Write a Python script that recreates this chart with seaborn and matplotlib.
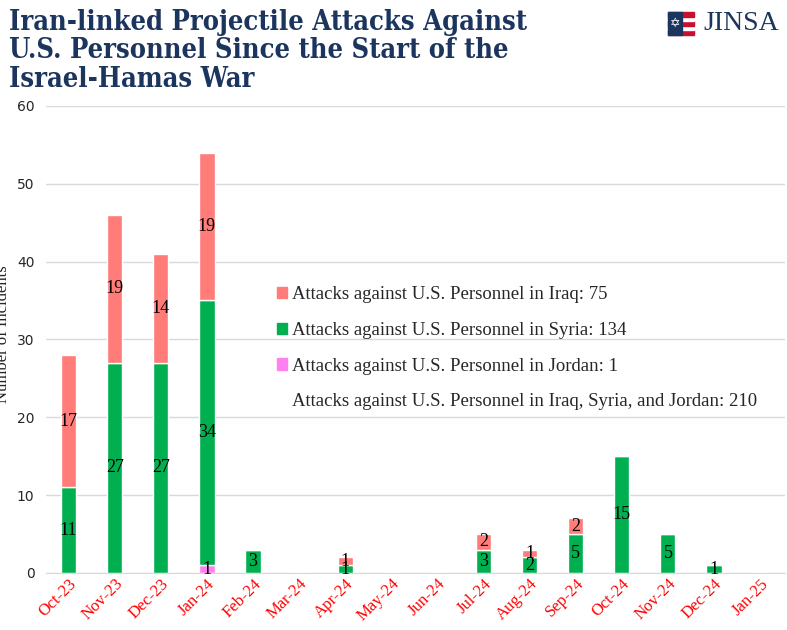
import numpy as np
import matplotlib
matplotlib.use("Agg")
import matplotlib.pyplot as plt
import seaborn as sns
from matplotlib.patches import Patch, Rectangle

months = ["Oct-23", "Nov-23", "Dec-23", "Jan-24", "Feb-24", "Mar-24", "Apr-24", "May-24",
          "Jun-24", "Jul-24", "Aug-24", "Sep-24", "Oct-24", "Nov-24", "Dec-24", "Jan-25"]
jordan = [0, 0, 0, 1, 0, 0, 0, 0, 0, 0, 0, 0, 0, 0, 0, 0]
syria = [11, 27, 27, 34, 3, 0, 1, 0, 0, 3, 2, 5, 15, 5, 1, 0]
iraq = [17, 19, 14, 19, 0, 0, 1, 0, 0, 2, 1, 2, 0, 0, 0, 0]

legend_labels = ["Attacks against U.S. Personnel in Iraq: 75",
                 "Attacks against U.S. Personnel in Syria: 134",
                 "Attacks against U.S. Personnel in Jordan: 1",
                 "Attacks against U.S. Personnel in Iraq, Syria, and Jordan: 210"]

c_iraq = "#ff7c78"
c_syria = "#00b050"
c_jordan = "#ff80f0"
navy = "#1c355e"

sns.set_style("white")
plt.rcParams['font.family'] = ['DejaVu Sans']

fig = plt.figure(figsize=(7.87, 6.3), dpi=100)
ax = fig.add_axes([0.058, 0.0905, 0.94, 0.7415])

jordan = np.array(jordan)
syria = np.array(syria)
iraq = np.array(iraq)

sns.barplot(x=months, y=jordan, color=c_jordan, width=0.33, ax=ax, saturation=1)
sns.barplot(x=months, y=syria, bottom=jordan, color=c_syria, width=0.33, ax=ax, saturation=1)
sns.barplot(x=months, y=iraq, bottom=jordan + syria, color=c_iraq, width=0.33, ax=ax, saturation=1)

# data labels
lab_font = dict(family="Liberation Serif", fontsize=13, color="black", ha="center", va="center")
for i in range(len(months)):
    if jordan[i]:
        ax.text(i, jordan[i] / 2, str(jordan[i]), **lab_font)
    if syria[i]:
        ax.text(i, jordan[i] + syria[i] / 2, str(syria[i]), **lab_font)
    if iraq[i]:
        ax.text(i, jordan[i] + syria[i] + iraq[i] / 2, str(iraq[i]), **lab_font)

ax.set_xlim(-0.5, 15.55)
ax.set_ylim(0, 60)
ax.set_yticks(range(0, 61, 10))
ax.yaxis.grid(True, color="#d9d9d9", linewidth=1)
ax.set_axisbelow(True)
for s in ["top", "right", "left"]:
    ax.spines[s].set_visible(False)
ax.spines["bottom"].set_color("#d9d9d9")
ax.tick_params(axis="y", length=0, labelsize=10, pad=8)
ax.tick_params(axis="x", length=0, pad=2)
ax.set_xticks(np.arange(len(months)))
ax.set_xticks(np.arange(len(months) + 1) - 0.5, minor=True)
ax.tick_params(axis="x", which="minor", length=5, color="#d9d9d9", direction="out")
ax.set_xticklabels(months, rotation=45, ha="right", rotation_mode="anchor",
                   family="Liberation Serif", fontsize=12, color="red")
ax.set_xlabel("")
ax.set_ylabel("")

fig.text(0.004, 0.47, "Number of Incidents", rotation=90, ha="center", va="center",
         family="Liberation Serif", fontsize=12)

handles = [Patch(color=c_iraq), Patch(color=c_syria), Patch(color=c_jordan), Patch(color="none")]
leg = ax.legend(handles, legend_labels, loc="upper left", bbox_to_anchor=(0.29, 0.65),
                frameon=False, handlelength=0.55, handleheight=0.55, handletextpad=0.25,
                labelspacing=1.0, prop=dict(family="Liberation Serif", size=13.5))

fig.text(0.012, 0.985, "Iran-linked Projectile Attacks Against\nU.S. Personnel Since the Start of the\nIsrael-Hamas War",
         ha="left", va="top", family="DejaVu Serif", fontweight="bold", fontsize=19.5,
         fontstretch="condensed", color=navy, linespacing=1.05)

# logo
fig.text(0.99, 0.962, "JINSA", ha="right", va="center", family="Liberation Serif",
         fontsize=20, color=navy)
lx, ly, lw, lh = 0.849, 0.945, 0.033, 0.036
for k in range(5):
    fig.patches.append(Rectangle((lx, ly + k * lh / 5), lw, lh / 5,
                                 color=("#c8102e" if k % 2 == 0 else "white"),
                                 transform=fig.transFigure))
fig.patches.append(Rectangle((lx, ly), lw * 0.55, lh, color=navy, transform=fig.transFigure))
fig.text(lx + lw * 0.275, ly + lh / 2, "\u2721", ha="center", va="center", color="white", fontsize=9)

fig.savefig("out.png", dpi=100)
